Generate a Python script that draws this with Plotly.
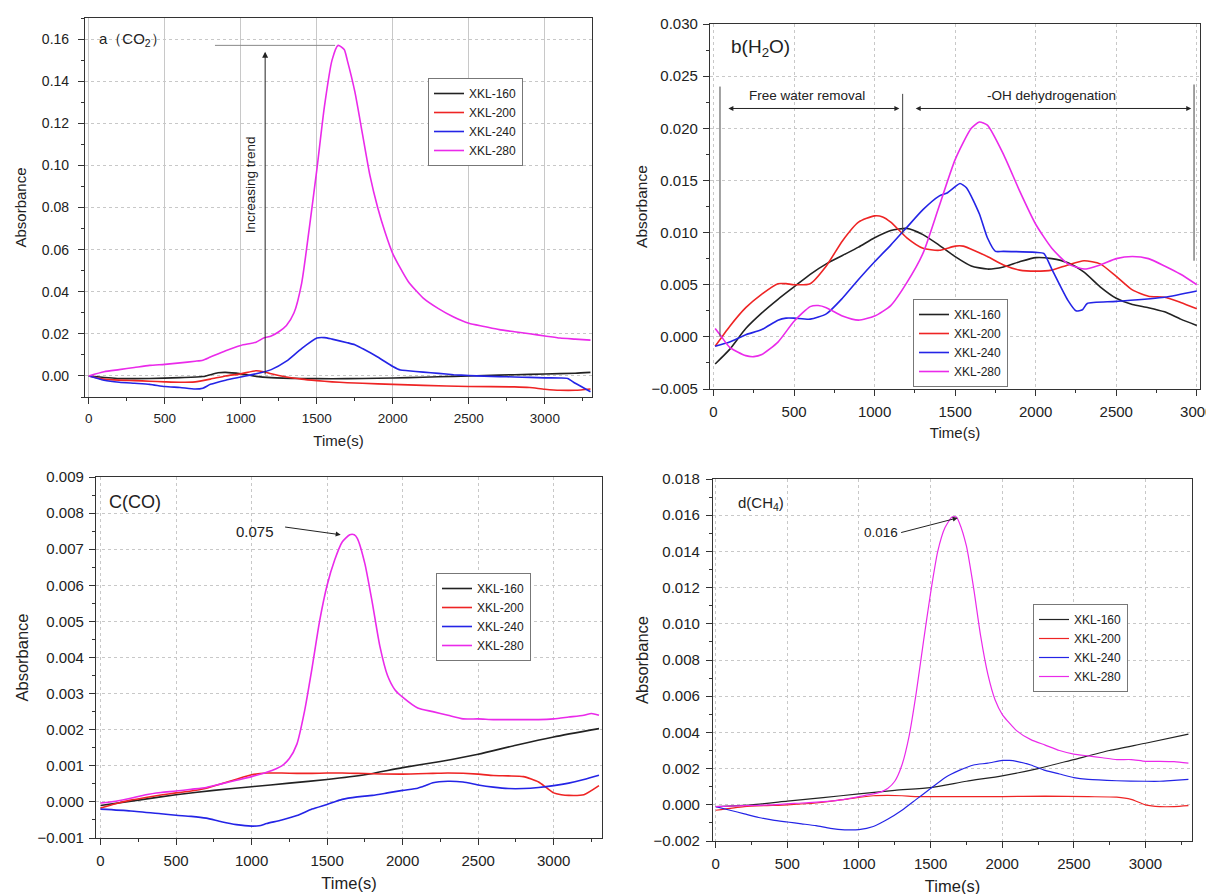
import plotly.graph_objects as go

series_names = ["XKL-160", "XKL-200", "XKL-240", "XKL-280"]
colors = ["#222222", "#ee2424", "#2424e6", "#ea2aea"]

# ---------------- Panel a: CO2 ----------------
a_t160 = [0, 200, 400, 600, 750, 850, 900, 1000, 1100, 1200, 1400, 1600, 1800, 2000, 2200, 2400, 2600, 2800, 3000, 3200, 3300]
a_v160 = [0.0, -0.0012, -0.0012, -0.0008, -0.0003, 0.0015, 0.0017, 0.001, -0.0002, -0.0008, -0.0012, -0.0013, -0.0012, -0.001, -0.0006, -0.0002, 0.0002, 0.0006, 0.0009, 0.0013, 0.0017]
a_t200 = [0, 100, 200, 300, 400, 500, 600, 700, 800, 900, 1000, 1100, 1150, 1200, 1300, 1400, 1500, 1600, 1700, 1800, 2000, 2200, 2500, 2800, 2900, 3000, 3100, 3200, 3300]
a_v200 = [0.0, -0.0015, -0.002, -0.0022, -0.0025, -0.0028, -0.003, -0.0028, -0.0015, 0.0, 0.001, 0.0025, 0.002, 0.001, -0.0005, -0.0015, -0.0022, -0.0028, -0.0032, -0.0035, -0.004, -0.0045, -0.005, -0.0052, -0.0055, -0.0063, -0.0068, -0.0068, -0.0062]
a_t240 = [0, 100, 200, 300, 400, 500, 600, 700, 750, 800, 900, 1000, 1100, 1200, 1300, 1400, 1500, 1550, 1600, 1700, 1750, 1800, 1900, 2000, 2050, 2100, 2200, 2300, 2400, 2500, 2600, 2700, 2800, 2900, 3000, 3100, 3150, 3200, 3300]
a_v240 = [0.0, -0.002, -0.003, -0.0035, -0.004, -0.005, -0.0055, -0.0062, -0.0058, -0.004, -0.002, -0.0005, 0.001, 0.003, 0.007, 0.013, 0.018, 0.0182, 0.0175, 0.0158, 0.0148, 0.013, 0.009, 0.0045, 0.0028, 0.0025, 0.0018, 0.0012, 0.0006, 0.0002, -0.0001, -0.0003, -0.0005, -0.0007, -0.0009, -0.001, -0.0012, -0.0035, -0.0075]
a_t280 = [0, 100, 200, 300, 400, 500, 600, 700, 750, 800, 900, 1000, 1100, 1150, 1200, 1250, 1300, 1350, 1400, 1450, 1500, 1550, 1600, 1640, 1680, 1700, 1750, 1800, 1850, 1900, 1950, 2000, 2100, 2200, 2300, 2400, 2500, 2600, 2700, 2800, 2900, 3000, 3100, 3200, 3300]
a_v280 = [0.0, 0.002, 0.003, 0.004, 0.005, 0.0055, 0.0062, 0.007, 0.0075, 0.009, 0.012, 0.0145, 0.016, 0.018, 0.019, 0.021, 0.024, 0.030, 0.044, 0.070, 0.098, 0.128, 0.150, 0.157, 0.155, 0.150, 0.135, 0.115, 0.095, 0.080, 0.068, 0.058, 0.045, 0.037, 0.032, 0.028, 0.025, 0.0235, 0.022, 0.021, 0.020, 0.019, 0.018, 0.0175, 0.017]

# ---------------- Panel b: H2O ----------------
b_t160 = [10, 100, 200, 300, 400, 500, 600, 700, 800, 900, 1000, 1100, 1200, 1300, 1400, 1500, 1600, 1700, 1800, 1900, 2000, 2100, 2200, 2300, 2400, 2500, 2600, 2700, 2800, 2900, 3000]
b_v160 = [-0.0026, -0.0012, 0.0008, 0.0023, 0.0036, 0.0048, 0.006, 0.007, 0.0078, 0.0086, 0.0095, 0.0102, 0.0104, 0.0098, 0.0088, 0.0077, 0.0068, 0.0065, 0.0067, 0.0072, 0.0076, 0.0075, 0.0071, 0.0062, 0.0048, 0.0037, 0.0031, 0.0028, 0.0024, 0.0017, 0.0011]
b_t200 = [10, 100, 200, 300, 400, 450, 500, 600, 700, 800, 900, 1000, 1050, 1100, 1200, 1300, 1400, 1500, 1550, 1600, 1700, 1800, 1900, 2000, 2100, 2200, 2300, 2400, 2500, 2600, 2700, 2800, 2900, 3000]
b_v200 = [-0.0009, 0.001, 0.0028, 0.0041, 0.0051, 0.0051, 0.0050, 0.0051, 0.0068, 0.0092, 0.0110, 0.0116, 0.0115, 0.0110, 0.0095, 0.0085, 0.0083, 0.0087, 0.0087, 0.0084, 0.0077, 0.0069, 0.0064, 0.0063, 0.0064, 0.0069, 0.0073, 0.0070, 0.0058, 0.0045, 0.0039, 0.0038, 0.0033, 0.0027]
b_t240 = [10, 100, 200, 300, 400, 450, 500, 600, 700, 800, 900, 1000, 1100, 1200, 1300, 1400, 1450, 1500, 1530, 1570, 1650, 1700, 1750, 1800, 2000, 2050, 2100, 2200, 2250, 2290, 2320, 2500, 2800, 3000]
b_v240 = [-0.0009, -0.0005, 0.0002, 0.0007, 0.0016, 0.0018, 0.0018, 0.0017, 0.0022, 0.0037, 0.0055, 0.0072, 0.0088, 0.0105, 0.0122, 0.0135, 0.0138, 0.0144, 0.0147, 0.0143, 0.0118, 0.0095, 0.0082, 0.0082, 0.0081, 0.0080, 0.0065, 0.0035, 0.0025, 0.0026, 0.0032, 0.0034, 0.0038, 0.0044]
b_t280 = [10, 50, 100, 200, 250, 300, 400, 500, 600, 650, 700, 800, 900, 1000, 1100, 1200, 1300, 1400, 1500, 1600, 1650, 1700, 1800, 1900, 2000, 2100, 2200, 2300, 2400, 2500, 2600, 2700, 2800, 2900, 3000]
b_v280 = [0.0008, 0.0, -0.0010, -0.0018, -0.0019, -0.0017, -0.0005, 0.0015, 0.0029, 0.0030, 0.0028, 0.0020, 0.0016, 0.0020, 0.0030, 0.0052, 0.0080, 0.0125, 0.0170, 0.0200, 0.0206, 0.0203, 0.0175, 0.0140, 0.0108, 0.0085, 0.0070, 0.0065, 0.0069, 0.0075, 0.0077, 0.0075, 0.0068, 0.0060, 0.0050]

# ---------------- Panel c: CO ----------------
c_t160 = [0, 250, 500, 750, 1000, 1250, 1500, 1750, 2000, 2250, 2500, 2750, 3000, 3300]
c_v160 = [-0.0001, 0.00005, 0.0002, 0.00032, 0.00042, 0.00052, 0.00062, 0.00075, 0.00095, 0.00112, 0.00132, 0.00157, 0.0018, 0.00203]
c_t200 = [0, 100, 200, 300, 400, 500, 600, 700, 800, 900, 1000, 1100, 1200, 1300, 1400, 1500, 1600, 1700, 1800, 2000, 2200, 2300, 2500, 2600, 2700, 2800, 2900, 2950, 3000, 3050, 3100, 3200, 3300]
c_v200 = [-0.00017, -0.00005, 0.00005, 0.00012, 0.00019, 0.00025, 0.0003, 0.00038, 0.0005, 0.00063, 0.00075, 0.0008, 0.0008, 0.00079, 0.00079, 0.0008, 0.0008, 0.00079, 0.00078, 0.00077, 0.00079, 0.0008, 0.00077, 0.00073, 0.00072, 0.0007, 0.00055, 0.0004, 0.00025, 0.0002, 0.00018, 0.0002, 0.00045]
c_t240 = [0, 200, 400, 500, 600, 700, 800, 900, 1000, 1050, 1100, 1200, 1300, 1400, 1500, 1600, 1700, 1800, 1900, 2000, 2100, 2150, 2200, 2300, 2400, 2500, 2600, 2700, 2800, 2900, 3000, 3100, 3200, 3300]
c_v240 = [-0.0002, -0.00025, -0.00033, -0.00037, -0.0004, -0.00045, -0.00055, -0.00063, -0.00067, -0.00066, -0.0006, -0.0005, -0.00038, -0.0002, -0.00007, 0.00007, 0.00014, 0.00018, 0.00025, 0.00032, 0.00038, 0.00045, 0.00053, 0.00057, 0.00055, 0.00047, 0.00041, 0.00037, 0.00037, 0.0004, 0.00045, 0.00052, 0.00062, 0.00074]
c_t280 = [0, 100, 200, 300, 400, 500, 600, 700, 800, 900, 1000, 1100, 1200, 1250, 1300, 1350, 1400, 1450, 1500, 1550, 1600, 1650, 1680, 1700, 1750, 1800, 1850, 1900, 1950, 2000, 2100, 2200, 2300, 2400, 2500, 2600, 2700, 2800, 2900, 3000, 3100, 3200, 3250, 3300]
c_v280 = [-0.00003, 0.00002, 0.0001, 0.0002, 0.00026, 0.0003, 0.00035, 0.0004, 0.0005, 0.0006, 0.0007, 0.00082, 0.001, 0.0012, 0.0016, 0.0025, 0.0037, 0.0050, 0.0060, 0.0067, 0.0072, 0.0074, 0.0074, 0.0073, 0.0066, 0.0055, 0.0043, 0.0035, 0.0031, 0.0029, 0.0026, 0.0025, 0.0024, 0.0023, 0.0023, 0.00228, 0.00228, 0.00228, 0.00228, 0.0023, 0.00235, 0.0024, 0.00245, 0.0024]

# ---------------- Panel d: CH4 ----------------
d_t160 = [0, 250, 500, 750, 1000, 1250, 1500, 1750, 2000, 2250, 2500, 2750, 3000, 3300]
d_v160 = [-0.0001, 0.0, 0.0002, 0.0004, 0.0006, 0.0008, 0.00095, 0.0013, 0.0016, 0.0020, 0.0025, 0.0030, 0.0034, 0.0039]
d_t200 = [0, 200, 500, 700, 900, 1100, 1200, 1300, 1400, 1600, 2000, 2300, 2600, 2800, 2900, 3000, 3100, 3200, 3300]
d_v200 = [-0.0003, -0.0001, 0.0, 0.0001, 0.0003, 0.0005, 0.00052, 0.0005, 0.00045, 0.00045, 0.00045, 0.00048, 0.00045, 0.00042, 0.0003, 0.0, -0.0001, -0.0001, -0.00005]
d_t240 = [0, 100, 200, 300, 400, 500, 600, 700, 800, 900, 1000, 1100, 1200, 1300, 1400, 1500, 1600, 1700, 1800, 1900, 2000, 2050, 2100, 2200, 2300, 2400, 2500, 2600, 2800, 3000, 3100, 3200, 3300]
d_v240 = [-0.0001, -0.0003, -0.0005, -0.0007, -0.00085, -0.00095, -0.00105, -0.00115, -0.0013, -0.00138, -0.00137, -0.0012, -0.0008, -0.0003, 0.0003, 0.0009, 0.0015, 0.0019, 0.0022, 0.0023, 0.00245, 0.00245, 0.0024, 0.0022, 0.0019, 0.0017, 0.0015, 0.0014, 0.00133, 0.0013, 0.0013, 0.00135, 0.0014]
d_t280 = [0, 200, 400, 600, 800, 900, 1000, 1100, 1150, 1200, 1250, 1300, 1350, 1400, 1450, 1500, 1550, 1600, 1650, 1680, 1700, 1750, 1800, 1850, 1900, 1950, 2000, 2100, 2200, 2300, 2400, 2500, 2600, 2700, 2800, 2900, 3000, 3100, 3200, 3300]
d_v280 = [-0.0001, -0.00005, 0.0, 0.0001, 0.0002, 0.0003, 0.00045, 0.0006, 0.0007, 0.0009, 0.0013, 0.0022, 0.0038, 0.0062, 0.0090, 0.0117, 0.0140, 0.0153, 0.0159, 0.0159, 0.0156, 0.0143, 0.0120, 0.0093, 0.0072, 0.0058, 0.0050, 0.0041, 0.0036, 0.0033, 0.0030, 0.0028, 0.0027, 0.0026, 0.0025, 0.0025, 0.0024, 0.0024, 0.00238, 0.0023]

x_ticks = [0, 500, 1000, 1500, 2000, 2500, 3000]

W, H = 1214, 894
OFF = 8  # page body margin offset of the figure in the browser window


def dx(p0, p1):
    return [(p0 - OFF) / W, (p1 - OFF) / W]


def dy(top, bottom):
    return [1 - (bottom - OFF) / H, 1 - (top - OFF) / H]


def pt(px, py):
    return ((px - OFF) / W, 1 - (py - OFF) / H)


panels = [
    dict(data=[(a_t160, a_v160), (a_t200, a_v200), (a_t240, a_v240), (a_t280, a_v280)],
         xd=dx(85, 592), yd=dy(18, 397), xr=[-25, 3310], yr=[-0.01, 0.17],
         dy=0.02, fmt=".2f", leg=pt(428, 78),
         ytf=14, xtf=13.5, ytit=15, xtit=15, ystand=11, ylstand=6, xstand=10),
    dict(data=[(b_t160, b_v160), (b_t200, b_v200), (b_t240, b_v240), (b_t280, b_v280)],
         xd=dx(710, 1200), yd=dy(24, 389), xr=[-22, 3020], yr=[-0.005, 0.030],
         dy=0.005, fmt=".3f", leg=pt(913, 299),
         ytf=15, xtf=15, ytit=15.5, xtit=15, ystand=0, ylstand=2, xstand=8),
    dict(data=[(c_t160, c_v160), (c_t200, c_v200), (c_t240, c_v240), (c_t280, c_v280)],
         xd=dx(96, 602), yd=dy(477, 838), xr=[-30, 3320], yr=[-0.001, 0.009],
         dy=0.001, fmt=".3f", leg=pt(436, 573),
         ytf=15, xtf=15, ytit=16.5, xtit=16.5, ystand=4, ylstand=2, xstand=9),
    dict(data=[(d_t160, d_v160), (d_t200, d_v200), (d_t240, d_v240), (d_t280, d_v280)],
         xd=dx(713, 1192), yd=dy(479, 841), xr=[-19, 3325], yr=[-0.002, 0.018],
         dy=0.002, fmt=".3f", leg=pt(1033, 604),
         ytf=15, xtf=15, ytit=16.5, xtit=16.5, ystand=0, ylstand=3, xstand=9),
]

fig = go.Figure()
layout = dict(
    width=W, height=H, margin=dict(l=0, r=0, t=0, b=0, autoexpand=False),
    paper_bgcolor="white", plot_bgcolor="white",
    font=dict(family="Liberation Sans, Arial, sans-serif", size=13, color="#222"),
    showlegend=True,
)

for i, p in enumerate(panels):
    n = "" if i == 0 else str(i + 1)
    xa, ya = "x" + n, "y" + n
    legname = "legend" if i == 0 else "legend" + str(i + 1)
    width = 1.2 if i == 3 else 1.6
    for k, (t, v) in enumerate(p["data"]):
        fig.add_trace(go.Scatter(
            x=t, y=v, mode="lines", name=series_names[k],
            line=dict(color=colors[k], width=width, shape="spline", smoothing=0.6),
            xaxis=xa, yaxis=ya, legend=legname,
        ))
    layout["xaxis" + n] = dict(
        domain=p["xd"], range=p["xr"], anchor=ya, tickvals=x_ticks, automargin=False,
        showline=True, linecolor="#333", linewidth=1.2, mirror=True,
        ticks="outside", ticklen=6, tickcolor="#333", ticklabelstandoff=3,
        minor=dict(dtick=250, tick0=0, ticks="outside", ticklen=3, tickcolor="#333", showgrid=False),
        showgrid=True, gridcolor="#c8c8c8", gridwidth=1, griddash="solid" if i == 0 else "dot",
        zeroline=False, tickfont=dict(size=p["xtf"]),
        title=dict(text="Time(s)", font=dict(size=p["xtit"]), standoff=p["xstand"]),
    )
    layout["yaxis" + n] = dict(
        domain=p["yd"], range=p["yr"], anchor=xa, dtick=p["dy"], tick0=0, tickformat=p["fmt"],
        automargin=False,
        showline=True, linecolor="#333", linewidth=1.2, mirror=True,
        ticks="outside", ticklen=6, tickcolor="#333", ticklabelstandoff=p["ylstand"],
        minor=dict(dtick=p["dy"] / 2, ticks="outside", ticklen=3, tickcolor="#333", showgrid=False),
        showgrid=True, gridcolor="#c8c8c8", gridwidth=1, griddash="dot",
        zeroline=False, tickfont=dict(size=p["ytf"]),
        title=dict(text="Absorbance", font=dict(size=p["ytit"]), standoff=p["ystand"]),
    )
    layout[legname] = dict(
        x=p["leg"][0], y=p["leg"][1], xanchor="left", yanchor="top",
        bgcolor="white", bordercolor="#777", borderwidth=1,
        font=dict(size=12), tracegroupgap=0, itemwidth=30,
    )

annotations = [
    # panel a
    dict(x=55, y=0.160, xref="x", yref="y", text="a（CO<sub>2</sub>）", showarrow=False,
         xanchor="left", font=dict(size=15)),
    dict(x=1160, y=0.154, ax=1160, ay=0.0, xref="x", yref="y", axref="x", ayref="y",
         text="", showarrow=True, arrowhead=2, arrowsize=1.2, arrowwidth=1, arrowcolor="#222"),
    dict(x=1060, y=0.091, xref="x", yref="y", text="Increasing trend", textangle=-90,
         showarrow=False, font=dict(size=13.5)),
    # panel b
    dict(x=93, y=0.0277, xref="x2", yref="y2", text="b(H<sub>2</sub>O)", showarrow=False,
         xanchor="left", font=dict(size=19)),
    dict(x=92, y=0.0219, ax=1163, ay=0.0219, xref="x2", yref="y2", axref="x2", ayref="y2",
         text="", showarrow=True, arrowhead=2, arrowside="end+start", arrowwidth=1, arrowcolor="#222"),
    dict(x=1255, y=0.0219, ax=2975, ay=0.0219, xref="x2", yref="y2", axref="x2", ayref="y2",
         text="", showarrow=True, arrowhead=2, arrowside="end+start", arrowwidth=1, arrowcolor="#222"),
    dict(x=580, y=0.0231, xref="x2", yref="y2", text="Free water removal", showarrow=False,
         font=dict(size=13.5)),
    dict(x=2100, y=0.0231, xref="x2", yref="y2", text="-OH dehydrogenation", showarrow=False,
         font=dict(size=13.5)),
    # panel c
    dict(x=46, y=0.0083, xref="x3", yref="y3", text="C(CO)", showarrow=False,
         xanchor="left", font=dict(size=18)),
    dict(x=1590, y=0.0074, ax=1212, ay=0.00762, xref="x3", yref="y3", axref="x3", ayref="y3",
         text="", showarrow=True, arrowhead=2, arrowwidth=1, arrowcolor="#222"),
    dict(x=1020, y=0.00748, xref="x3", yref="y3", text="0.075", showarrow=False, font=dict(size=15)),
    # panel d
    dict(x=140, y=0.01667, xref="x4", yref="y4", text="d(CH<sub>4</sub>)", showarrow=False,
         xanchor="left", font=dict(size=15)),
    dict(x=1689, y=0.01585, ax=1284, ay=0.01502, xref="x4", yref="y4", axref="x4", ayref="y4",
         text="", showarrow=True, arrowhead=2, arrowwidth=1, arrowcolor="#222"),
    dict(x=1151, y=0.01507, xref="x4", yref="y4", text="0.016", showarrow=False, font=dict(size=13.5)),
]

shapes = [
    dict(type="line", xref="x", yref="y", x0=830, x1=1620, y0=0.157, y1=0.157,
         line=dict(color="#888", width=1)),
    dict(type="line", xref="x2", yref="y2", x0=40, x1=40, y0=0.0, y1=0.024,
         line=dict(color="#444", width=1)),
    dict(type="line", xref="x2", yref="y2", x0=1174, x1=1174, y0=0.0099, y1=0.0233,
         line=dict(color="#444", width=1)),
    dict(type="line", xref="x2", yref="y2", x0=2983, x1=2983, y0=0.0073, y1=0.0242,
         line=dict(color="#444", width=1)),
]

layout["annotations"] = annotations
layout["shapes"] = shapes
fig.update_layout(**layout)
fig.write_html("out.html")
